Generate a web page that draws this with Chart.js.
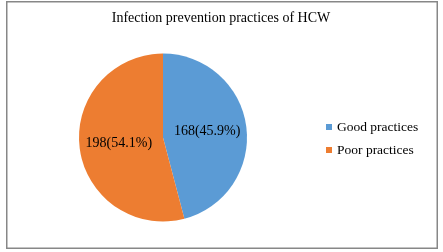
<!DOCTYPE html>
<html>
<head>
<meta charset="utf-8">
<script src="https://cdn.jsdelivr.net/npm/chart.js@4/dist/chart.umd.min.js"></script>
<style>
  html, body { margin: 0; padding: 0; background: #fff; }
  #wrap { width: 443px; height: 252px; }
</style>
</head>
<body>
<div id="wrap"><canvas id="myChart" width="443" height="252"></canvas></div>
<script>
// chart data
var titleText = 'Infection prevention practices of HCW';
var labels = ['Good practices', 'Poor practices'];
var counts = [168, 198];
var percents = ['45.9', '54.1'];
var colors = ['#5B9BD5', '#ED7D31'];

var serif = '"Liberation Serif", "Times New Roman", serif';

// border, title, slice labels and legend
var extras = {
    id: 'extras',
    beforeDraw: function (chart) {
        var ctx = chart.ctx;
        ctx.save();
        ctx.fillStyle = '#fff';
        ctx.fillRect(0, 0, chart.width, chart.height);
        ctx.strokeStyle = '#878787';
        ctx.lineWidth = 1.5;
        ctx.strokeRect(6.75, 1.75, 430.5, 246.5);
        ctx.fillStyle = '#000';
        ctx.font = '14px ' + serif;
        ctx.textAlign = 'center';
        ctx.textBaseline = 'middle';
        ctx.fillText(titleText, 221, 18);
        ctx.restore();
    },
    afterDraw: function (chart) {
        var ctx = chart.ctx;
        var meta = chart.getDatasetMeta(0);
        ctx.save();
        ctx.fillStyle = '#000';
        ctx.font = '14px ' + serif;
        ctx.textAlign = 'center';
        ctx.textBaseline = 'middle';
        meta.data.forEach(function (arc, i) {
            var p = arc.getProps(['x', 'y', 'startAngle', 'endAngle', 'outerRadius'], true);
            var mid = (p.startAngle + p.endAngle) / 2;
            var r = p.outerRadius * 0.53;
            var tx = p.x + Math.cos(mid) * r;
            var ty = p.y + Math.sin(mid) * r;
            ctx.fillText(counts[i] + '(' + percents[i] + '%)', tx, ty);
        });
        // legend
        ctx.font = '13.5px ' + serif;
        ctx.textAlign = 'left';
        labels.forEach(function (lab, i) {
            var y = 127 + i * 23;
            ctx.fillStyle = colors[i];
            ctx.fillRect(326, y - 3, 6, 6);
            ctx.fillStyle = '#000';
            ctx.fillText(lab, 337, y);
        });
        ctx.restore();
    }
};

new Chart(document.getElementById('myChart'), {
    type: 'pie',
    data: {
        labels: labels,
        datasets: [{
            data: counts,
            backgroundColor: colors,
            borderWidth: 0
        }]
    },
    options: {
        responsive: false,
        animation: false,
        layout: {
            padding: { left: 79, right: 196, top: 53, bottom: 30 }
        },
        plugins: {
            legend: { display: false },
            title: { display: false },
            tooltip: { enabled: false }
        }
    },
    plugins: [extras]
});
</script>
</body>
</html>
